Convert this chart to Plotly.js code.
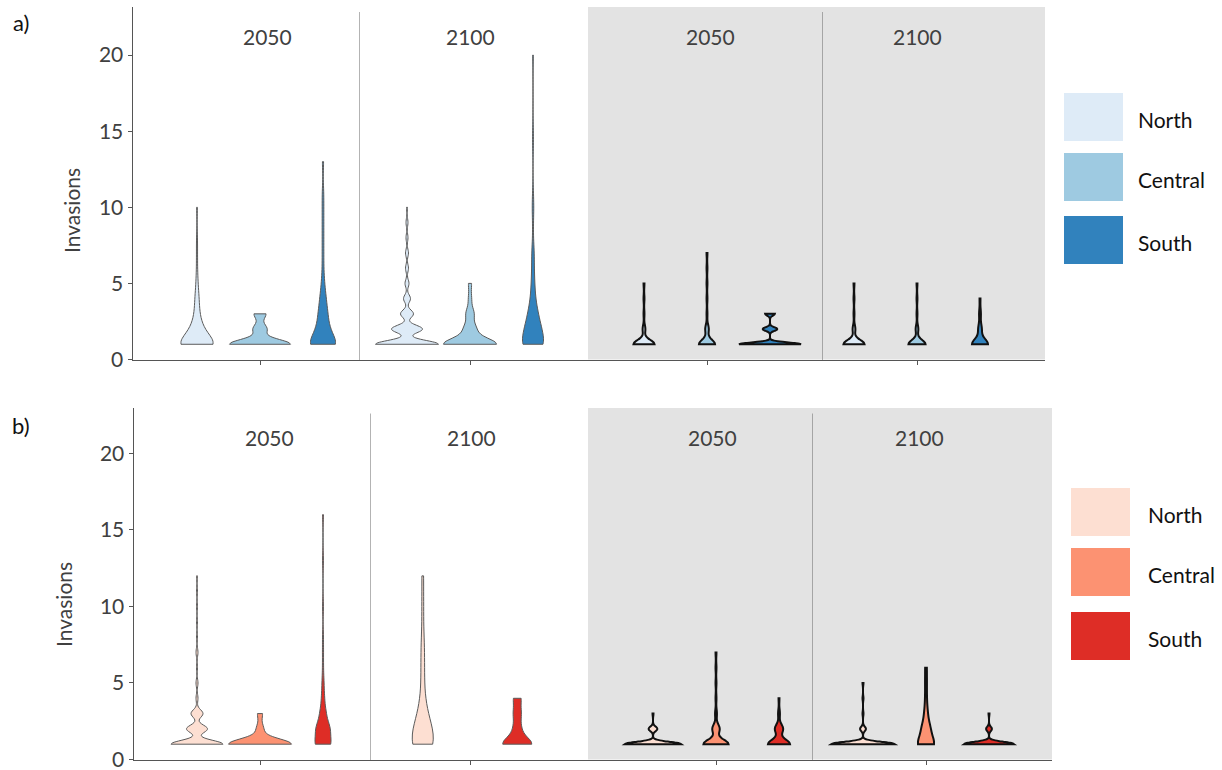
<!DOCTYPE html>
<html>
<head>
<meta charset="utf-8">
<script src="https://cdn.plot.ly/plotly-3.0.1.min.js"></script>
<style>
  html, body { margin: 0; padding: 0; background: #fff; }
  #chart { width: 1222px; height: 770px; }
</style>
</head>
<body>
<div id="chart"></div>
<script>
// ---- data -------------------------------------------------------------
const regions = ['North', 'Central', 'South'];
const years = ['2050', '2100', '2050', '2100'];
const yTicks = [0, 5, 10, 15, 20];

// Number of runs ending with 1, 2, 3, ... invasions (index 0 = 1 invasion).
// Panel a, first scenario
const a1_2050_north   = [40, 12, 5, 4, 2, 1, 1, 1, 0, 1];
const a1_2050_central = [61, 14, 12];
const a1_2050_south   = [20, 8, 6, 4, 2, 1, 1, 1, 1, 1, 1, 0, 1];
const a1_2100_north   = [63, 31, 13, 7, 4, 3, 3, 2, 2, 1];
const a1_2100_central = [53, 12, 8, 3, 3];
const a1_2100_south   = [28, 20, 12, 6, 4, 3, 3, 1, 1, 2, 1, 0, 0, 1, 1, 0, 0, 0, 0, 1];
// Panel a, second scenario
const a2_2050_north   = [23, 3, 1, 1, 1];
const a2_2050_central = [18, 4, 1, 1, 1, 1, 1];
const a2_2050_south   = [64, 15, 10];
const a2_2100_north   = [23, 3, 1, 1, 1];
const a2_2100_central = [19, 3, 1, 1, 1];
const a2_2100_south   = [18, 4, 2, 1];
// Panel b, first scenario
const b1_2050_north   = [52, 21, 12, 2, 2, 1, 2, 1, 1, 1, 1, 1];
const b1_2050_central = [63, 7, 5];
const b1_2050_south   = [16, 14, 6, 3, 2, 1, 1, 1, 0, 1, 0, 0, 1, 0, 0, 1];
const b1_2100_north   = [10, 5, 3, 1, 1, 1, 1, 1, 0, 1, 0, 1];
const b1_2100_central = null;
const b1_2100_south   = [24, 6, 6, 6];
// Panel b, second scenario
const b2_2050_north   = [58, 9, 1];
const b2_2050_central = [27, 8, 2, 1, 1, 1, 1];
const b2_2050_south   = [24, 9, 2, 1];
const b2_2100_north   = [65, 6, 1, 1, 1];
const b2_2100_central = [10, 5, 2, 1, 1, 1];
const b2_2100_south   = [52, 6, 1];

// ---- styling ----------------------------------------------------------
const blues = ['#deebf7', '#9ecae1', '#3182bd'];
const reds  = ['#fddfd2', '#fc9272', '#de2d26'];
const W = 1222, H = 770;
const FONT = 'Lato, "Open Sans", sans-serif';
const TEXT = '#404040';
const DODGE = 189;   // total width shared by the violins of one group

const panels = [
  {
    label: 'a)', xa: 'x', ya: 'y', colors: blues,
    left: 133, right: 1045, top: 7, bottom: 359.5, ymax: 23.16,
    separators: [226.5, 689.5], shadeFrom: 455,
    labelY: 37, labelX: [134, 337, 577, 784],
    titlePos: [71, 211], tagPos: [21, 22],
    legendBox: [1064, 1123], legendY: [[93, 141], [153, 201], [216, 264]], legendTextX: 1136,
    groups: [
      { center: 127, shaded: false, data: [a1_2050_north, a1_2050_central, a1_2050_south], bw: [0.6, 0.32, 0.6], w: [32, 61, 25] },
      { center: 337, shaded: false, data: [a1_2100_north, a1_2100_central, a1_2100_south], bw: [0.25, 0.4, 0.6], w: [63, 53, 21] },
      { center: 574, shaded: true,  data: [a2_2050_north, a2_2050_central, a2_2050_south], bw: [0.28, 0.3, 0.12], w: [21, 16, 62] },
      { center: 784, shaded: true,  data: [a2_2100_north, a2_2100_central, a2_2100_south], bw: [0.28, 0.28, 0.35], w: [21, 17, 16] }
    ]
  },
  {
    label: 'b)', xa: 'x2', ya: 'y2', colors: reds,
    left: 134, right: 1052, top: 408, bottom: 759.5, ymax: 22.97,
    separators: [236.5, 678.5], shadeFrom: 454,
    labelY: 437, labelX: [135, 337, 578, 785],
    titlePos: [63, 605], tagPos: [21, 426],
    legendBox: [1071, 1130], legendY: [[488, 536], [548, 596], [612, 660]], legendTextX: 1146,
    groups: [
      { center: 126, shaded: false, data: [b1_2050_north, b1_2050_central, b1_2050_south], bw: [0.25, 0.35, 0.5], w: [52, 63, 16] },
      { center: 336, shaded: false, data: [b1_2100_north, b1_2100_central, b1_2100_south], bw: [1.0, 0.4, 0.45], w: [21, 0, 29] },
      { center: 582, shaded: true,  data: [b2_2050_north, b2_2050_central, b2_2050_south], bw: [0.15, 0.3, 0.3], w: [56, 25, 22] },
      { center: 792, shaded: true,  data: [b2_2100_north, b2_2100_central, b2_2100_south], bw: [0.15, 0.5, 0.15], w: [63, 16, 50] }
    ]
  }
];

// Expand a frequency table into individual observations.
function expand(counts) {
  const out = [];
  counts.forEach((c, i) => { for (let k = 0; k < c; k++) out.push(i + 1); });
  return out;
}

const traces = [];
const shapes = [];
const annotations = [];
const layout = {
  width: W, height: H,
  margin: { l: 0, r: 0, t: 0, b: 0 },
  paper_bgcolor: '#ffffff',
  plot_bgcolor: 'rgba(0,0,0,0)',
  showlegend: false,
  violinmode: 'overlay',
  font: { family: FONT, color: TEXT, size: 21 },
  shapes: shapes,
  annotations: annotations
};

panels.forEach((p, pi) => {
  const suffix = pi === 0 ? '' : '2';
  const centers = p.groups.map(g => g.center);

  layout['xaxis' + suffix] = {
    domain: [p.left / W, p.right / W],
    range: [0, p.right - p.left],
    type: 'linear',
    anchor: 'y' + suffix,
    showgrid: false, zeroline: false,
    showline: true, linecolor: '#555555', linewidth: 1.5,
    ticks: 'outside', ticklen: 4, tickwidth: 1, tickcolor: '#555555',
    tickvals: centers, showticklabels: false,
    fixedrange: true
  };
  layout['yaxis' + suffix] = {
    domain: [1 - p.bottom / H, 1 - p.top / H],
    range: [0, p.ymax],
    anchor: 'x' + suffix,
    showgrid: false, zeroline: false,
    showline: true, linecolor: '#555555', linewidth: 1.5,
    ticks: 'outside', ticklen: 4, tickwidth: 1, tickcolor: '#555555',
    tickvals: yTicks, ticktext: yTicks.map(String),
    tickfont: { family: FONT, size: 21, color: TEXT },
    ticklabeloverflow: 'allow',
    fixedrange: true
  };

  // shaded block behind the second scenario
  shapes.push({
    type: 'rect', layer: 'below', xref: p.xa, yref: p.ya + ' domain',
    x0: p.shadeFrom, x1: p.right - p.left, y0: 0, y1: 1,
    fillcolor: '#e3e3e3', line: { width: 0 }
  });
  // dotted separators between the year blocks
  p.separators.forEach(sx => shapes.push({
    type: 'line', layer: 'above', xref: p.xa, yref: p.ya + ' domain',
    x0: sx, x1: sx, y0: 0, y1: 0.985,
    line: { color: '#666666', width: 1, dash: '1px,1px' }
  }));

  // violins
  p.groups.forEach(g => {
    const present = g.data.map((d, i) => d ? i : -1).filter(i => i >= 0);
    const n = present.length;
    present.forEach((ri, j) => {
      const pos = g.center - DODGE / 2 + (j + 0.5) * DODGE / n;
      traces.push({
        type: 'violin',
        name: regions[ri],
        xaxis: p.xa, yaxis: p.ya,
        x0: pos,
        y: expand(g.data[ri]),
        orientation: 'v',
        width: g.w[ri],
        bandwidth: g.bw[ri],
        spanmode: 'hard',
        scalemode: 'width',
        points: false,
        box: { visible: false },
        meanline: { visible: false },
        fillcolor: p.colors[ri],
        line: g.shaded ? { color: '#111111', width: 2 } : { color: '#5a5a5a', width: 1 },
        opacity: 1,
        hoverinfo: 'skip',
        showlegend: false
      });
    });
  });

  // year labels
  years.forEach((yr, i) => annotations.push({
    xref: p.xa, yref: 'paper', x: p.labelX[i], y: 1 - p.labelY / H,
    text: yr, showarrow: false, xanchor: 'center', yanchor: 'middle',
    font: { family: FONT, size: 21, color: TEXT }
  }));

  // axis title
  annotations.push({
    xref: 'paper', yref: 'paper', x: p.titlePos[0] / W, y: 1 - p.titlePos[1] / H,
    text: 'Invasions', textangle: -90, showarrow: false,
    xanchor: 'center', yanchor: 'middle',
    font: { family: FONT, size: 21, color: TEXT }
  });

  // panel tag
  annotations.push({
    xref: 'paper', yref: 'paper', x: p.tagPos[0] / W, y: 1 - p.tagPos[1] / H,
    text: p.label, showarrow: false, xanchor: 'center', yanchor: 'middle',
    font: { family: FONT, size: 22, color: '#111111' }
  });

  // legend swatches
  regions.forEach((r, i) => {
    const [y0, y1] = p.legendY[i];
    shapes.push({
      type: 'rect', xref: 'paper', yref: 'paper',
      x0: p.legendBox[0] / W, x1: p.legendBox[1] / W,
      y0: 1 - y1 / H, y1: 1 - y0 / H,
      fillcolor: p.colors[i], line: { width: 0 }
    });
    annotations.push({
      xref: 'paper', yref: 'paper',
      x: p.legendTextX / W, y: 1 - ((y0 + y1) / 2 + 2) / H,
      text: r, showarrow: false, xanchor: 'left', yanchor: 'middle',
      font: { family: FONT, size: 21, color: '#111111' }
    });
  });
});

Plotly.newPlot('chart', traces, layout, { displayModeBar: false, staticPlot: true });
</script>
</body>
</html>
